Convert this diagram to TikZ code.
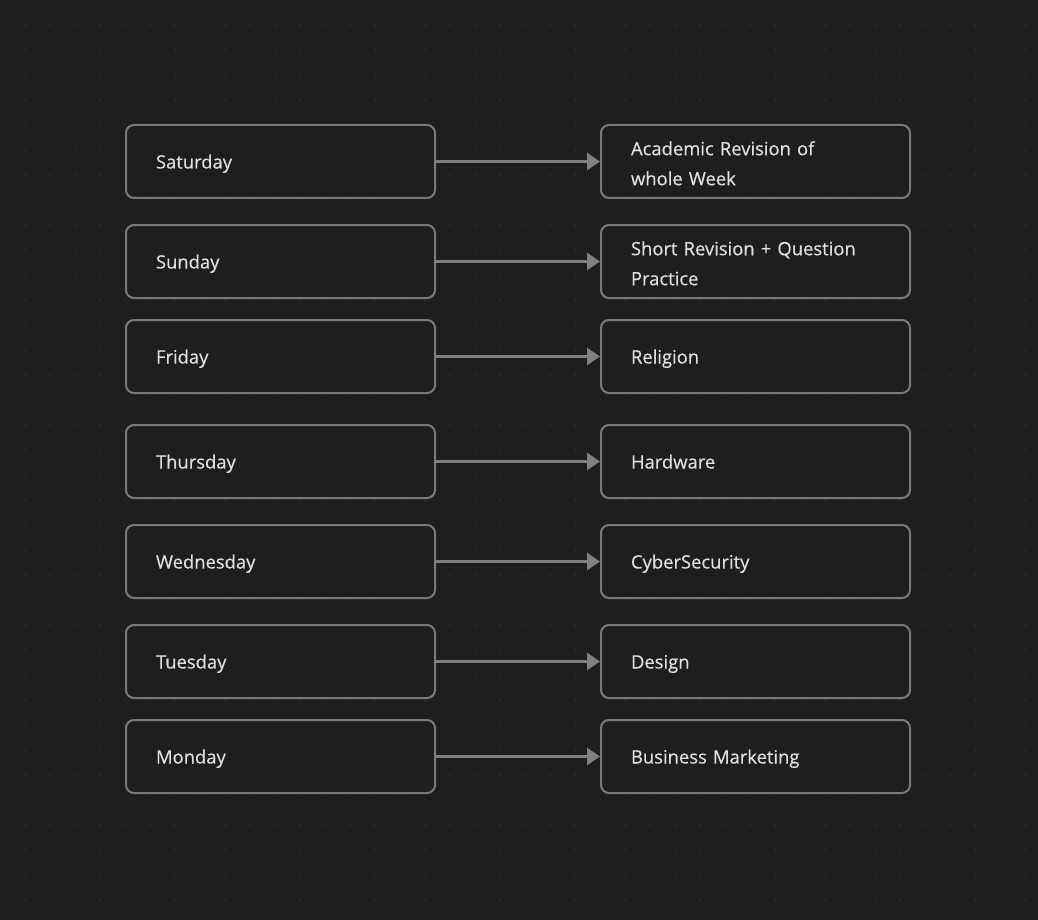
\documentclass[tikz,border=0pt]{standalone}
\usepackage{fontspec}
\setmainfont{Open Sans}
\newfontfamily\slotfont[FakeBold=0.4]{Open Sans}
\usetikzlibrary{arrows.meta}
\definecolor{canvas}{HTML}{1E1E1E}
\definecolor{griddot}{HTML}{2F2F2F}
\definecolor{boxline}{HTML}{7A7A7A}
\definecolor{boxtext}{HTML}{E0E0E0}
\definecolor{linkgray}{HTML}{808080}

\begin{document}
\begin{tikzpicture}[x=1pt, y=-1pt,
    slot/.style={draw=boxline, line width=2pt, rounded corners=8pt, fill=canvas,
        text=boxtext, font=\slotfont\fontsize{18.4}{30}\selectfont, text width=249pt,
        inner xsep=30pt, inner ysep=0pt, minimum height=73pt, align=left,
        execute at begin node={\rule[-7pt]{0pt}{28pt}},
        execute at end node={\rule[-3.5pt]{0pt}{3.5pt}}},
    link/.style={-{Triangle[length=13pt, width=17pt]}, draw=linkgray, line width=3pt}]
    \fill[canvas] (0,0) rectangle (1038,920);
    \foreach \i in {1,...,41}
        \foreach \j in {1,...,36}
            \fill[griddot] (\i*25,\j*25) circle (1pt);

    \node[slot] (Sat) at (280.5,161.5) {Saturday};
    \node[slot] (Sun) at (280.5,261.5) {Sunday};
    \node[slot] (Fri) at (280.5,356.5) {Friday};
    \node[slot] (Thu) at (280.5,461.5) {Thursday};
    \node[slot] (Wed) at (280.5,561.5) {Wednesday};
    \node[slot] (Tue) at (280.5,661.5) {Tuesday};
    \node[slot] (Mon) at (280.5,756.5) {Monday};

    \node[slot] (Sat_task) at (755.5,161.5) {Academic Revision of\\whole Week};
    \node[slot] (Sun_task) at (755.5,261.5) {Short Revision + Question\\Practice};
    \node[slot] (Fri_task) at (755.5,356.5) {Religion};
    \node[slot] (Thu_task) at (755.5,461.5) {Hardware};
    \node[slot] (Wed_task) at (755.5,561.5) {CyberSecurity};
    \node[slot] (Tue_task) at (755.5,661.5) {Design};
    \node[slot] (Mon_task) at (755.5,756.5) {Business Marketing};

    \draw[link] (Sat) -- (Sat_task);
    \draw[link] (Sun) -- (Sun_task);
    \draw[link] (Fri) -- (Fri_task);
    \draw[link] (Thu) -- (Thu_task);
    \draw[link] (Wed) -- (Wed_task);
    \draw[link] (Tue) -- (Tue_task);
    \draw[link] (Mon) -- (Mon_task);
\end{tikzpicture}
\end{document}
